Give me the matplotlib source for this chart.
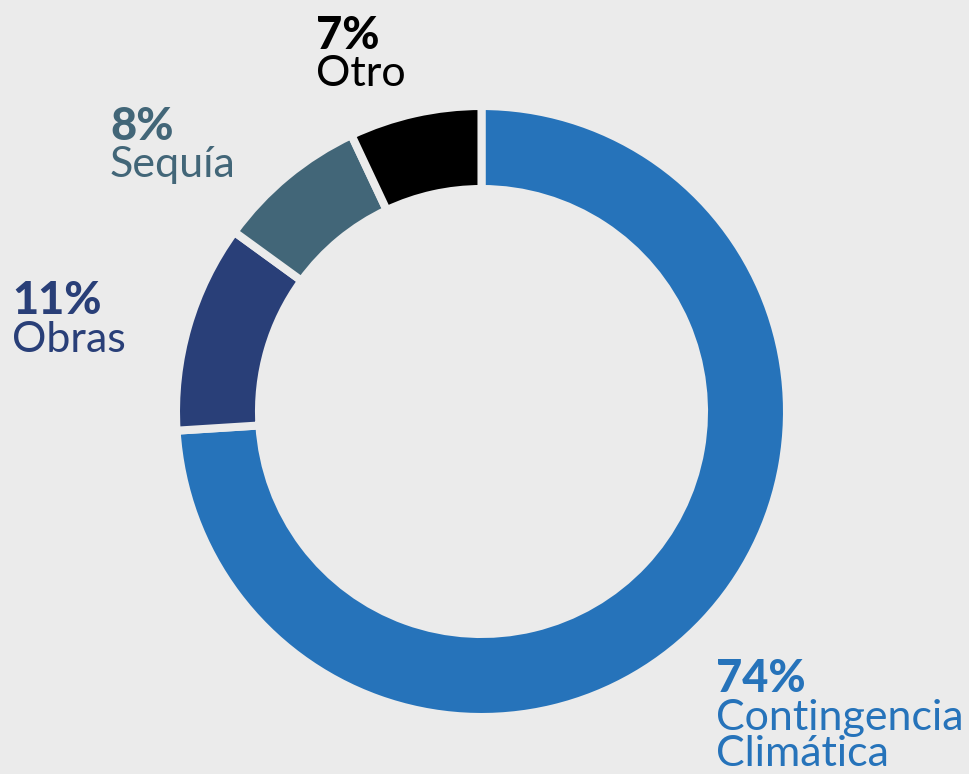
import matplotlib
matplotlib.use("Agg")
import matplotlib.pyplot as plt

categories = ["Contingencia\nClimática", "Obras", "Sequía", "Otro"]
values = [74, 11, 8, 7]
pct_labels = ["74%", "11%", "8%", "7%"]
colors = ["#2673ba", "#293f78", "#426678", "#000000"]

W, H = 969, 774
BG = "#ebebeb"
fig = plt.figure(figsize=(W / 100, H / 100), dpi=100, facecolor=BG)
ax = fig.add_axes([0, 0, 1, 1])
ax.set_facecolor(BG)

ax.pie(values, colors=colors, startangle=90, counterclock=False,
       center=(481.5, 362.5), radius=305.5,
       wedgeprops=dict(width=83, edgecolor=BG, linewidth=5.8))

ax.set_xlim(0, W)
ax.set_ylim(0, H)
ax.set_aspect("equal")
ax.axis("off")

font = "Lato"
# label positions: (x, baseline of pct, baseline of name)
label_pos = [(716, 82, 44), (12, 460, 422), (110, 634, 597), (316, 725, 688)]
for i, (x, yb, yn) in enumerate(label_pos):
    ax.text(x, yb, pct_labels[i], color=colors[i], fontsize=32.5, fontweight="black",
            family=font, va="baseline", ha="left")
    name_lines = categories[i].split("\n")
    for j, line in enumerate(name_lines):
        ax.text(x, yn - j * 36, line, color=colors[i], fontsize=31,
                fontweight="normal", family=font, va="baseline", ha="left")

fig.savefig("out.png", dpi=100, facecolor=fig.get_facecolor())
